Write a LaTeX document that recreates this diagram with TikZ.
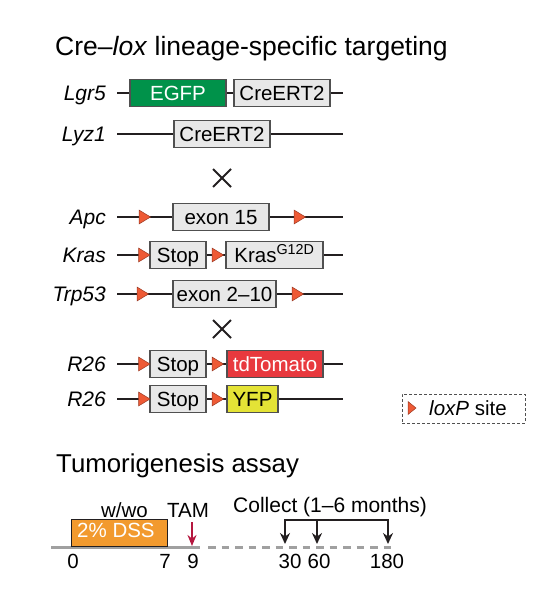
\documentclass[tikz,border=0pt]{standalone}
\usepackage{fontspec}
\setmainfont{Liberation Sans}
\usetikzlibrary{arrows.meta}
\definecolor{linec}{HTML}{231F20}
\definecolor{boxf}{HTML}{E8E8E8}
\definecolor{boxd}{HTML}{505050}
\definecolor{egfpc}{HTML}{00924A}
\definecolor{loxc}{HTML}{EE5A35}
\definecolor{loxe}{HTML}{9A3A24}
\definecolor{tomc}{HTML}{E8393E}
\definecolor{yfpc}{HTML}{E4E336}
\definecolor{dssc}{HTML}{F29A2E}
\definecolor{tlc}{HTML}{A0A0A0}
\definecolor{tamc}{HTML}{B5173F}
\newcommand\fsz[1]{\fontsize{#1}{#1}\selectfont}
\begin{document}
\begin{tikzpicture}[x=1pt,y=-1pt,
  gline/.style={draw=linec,line width=2.8pt},
  gbox/.style={draw=boxd,fill=boxf,line width=1.2pt,minimum height=27pt,inner sep=0pt,
    text height=14.8pt,text depth=0pt,font=\fsz{20.5}},
  glabel/.style={anchor=base east,inner sep=0pt,font=\fsz{21}\itshape},
  ttl/.style={anchor=base west,inner sep=0pt},
  tnum/.style={anchor=base,inner sep=0pt,font=\fsz{20.5}},
  crossmark/.style={draw=linec,line width=2pt},
  loxp/.pic={\filldraw[fill=loxc,draw=loxe,line width=0.5pt] (0,-7) -- (11.5,0) -- (0,7) -- cycle;},
  loxpsmall/.pic={\filldraw[fill=loxc,draw=loxe,line width=0.5pt] (0,-6.5) -- (8,0) -- (0,6.5) -- cycle;},
  tl/.style={draw=tlc,line width=3pt},
  collarrow/.style={draw=linec,line width=2pt,-{Stealth[length=11pt,width=10pt]}}
]
\useasboundingbox (0,0) rectangle (546,602);

% Title
\node[ttl,font=\fsz{26.5}] (title1) at (55,56) {Cre–\textit{lox} lineage-specific targeting};

% Row 1: Lgr5
\coordinate (l1a) at (117,93); \coordinate (l1b) at (343,93);
\draw[gline] (l1a) -- (l1b);
\node[glabel] (lab1) at (106,100.5) {Lgr5};
\node[gbox,fill=egfpc,text=white,minimum width=96pt] (egfp) at (178,93) {EGFP};
\node[gbox,minimum width=96pt] (cre1) at (282,93) {CreERT2};

% Row 2: Lyz1
\coordinate (l2a) at (117,134); \coordinate (l2b) at (343,134);
\draw[gline] (l2a) -- (l2b);
\node[glabel] (lab2) at (106,141.5) {Lyz1};
\node[gbox,minimum width=96pt] (cre2) at (222,134) {CreERT2};

% cross 1
\coordinate (x1a) at (213,169); \coordinate (x1b) at (231,187);
\coordinate (x1c) at (231,169); \coordinate (x1d) at (213,187);
\draw[crossmark] (x1a) -- (x1b); \draw[crossmark] (x1c) -- (x1d);

% Row 3: Apc
\coordinate (l3a) at (117,217); \coordinate (l3b) at (343,217);
\draw[gline] (l3a) -- (l3b);
\node[glabel] (lab3) at (106,224.5) {Apc};
\node[gbox,minimum width=96pt] (ex15) at (221,217) {exon 15};
\pic at (139,217) {loxp};
\pic at (294,217) {loxp};

% Row 4: Kras
\coordinate (l4a) at (117,255); \coordinate (l4b) at (343,255);
\draw[gline] (l4a) -- (l4b);
\node[glabel] (lab4) at (106,262.5) {Kras};
\node[gbox,minimum width=56pt] (stop1) at (178,255) {Stop};
\node[gbox,minimum width=97pt] (kras) at (274.5,255) {Kras\textsuperscript{G12D}};
\pic at (138.5,255) {loxp};
\pic at (212,255) {loxp};

% Row 5: Trp53
\coordinate (l5a) at (117,294); \coordinate (l5b) at (343,294);
\draw[gline] (l5a) -- (l5b);
\node[glabel] (lab5) at (106,301.5) {Trp53};
\node[gbox,minimum width=103pt] (ex210) at (224.5,294) {exon 2–10};
\pic at (137,294) {loxp};
\pic at (292,294) {loxp};

% cross 2
\coordinate (x2a) at (213,320); \coordinate (x2b) at (231,338);
\coordinate (x2c) at (231,320); \coordinate (x2d) at (213,338);
\draw[crossmark] (x2a) -- (x2b); \draw[crossmark] (x2c) -- (x2d);

% Row 6: R26 tdTomato
\coordinate (l6a) at (117,364); \coordinate (l6b) at (343,364);
\draw[gline] (l6a) -- (l6b);
\node[glabel] (lab6) at (106,371.5) {R26};
\node[gbox,minimum width=56pt] (stop2) at (178,364) {Stop};
\node[gbox,fill=tomc,text=white,minimum width=96pt] (tom) at (275,364) {tdTomato};
\pic at (138.5,364) {loxp};
\pic at (212,364) {loxp};

% Row 7: R26 YFP
\coordinate (l7a) at (117,399); \coordinate (l7b) at (343,399);
\draw[gline] (l7a) -- (l7b);
\node[glabel] (lab7) at (106,406.5) {R26};
\node[gbox,minimum width=56pt] (stop3) at (178,399) {Stop};
\node[gbox,fill=yfpc,minimum width=51pt] (yfp) at (252.5,399) {YFP};
\pic at (138.5,399) {loxp};
\pic at (212,399) {loxp};

% Legend
\node[draw=boxd,dashed,dash pattern=on 3pt off 2pt,line width=1pt,minimum width=123pt,minimum height=29pt,inner sep=0pt] (legend) at (463.5,408.5) {};
\pic at (408,408) {loxpsmall};
\node[anchor=base west,inner sep=0pt,font=\fsz{20.5}] (legtxt) at (429,415) {\textit{loxP} site};

% Tumorigenesis assay
\node[ttl,font=\fsz{25.8}] (title2) at (56,472) {Tumorigenesis assay};

\coordinate (t0) at (51,547); \coordinate (t1) at (200,547);
\coordinate (t2) at (208,547); \coordinate (t3) at (393,547);
\draw[tl] (t0) -- (t1);
\draw[tl,dash pattern=on 7.5pt off 6pt] (t2) -- (t3);

\node[draw=linec,fill=dssc,line width=1pt,minimum width=96pt,minimum height=27pt,inner sep=0pt,anchor=south west] (dss) at (71,547) {};
\node[anchor=base west,inner sep=0pt,font=\fsz{20.5},text=white] (dsstxt) at (77,537) {2\% DSS};
\node[tnum] (wwo) at (124.5,517) {w/wo};
\node[tnum] (tam) at (188,517) {TAM};
\coordinate (tama) at (192,522); \coordinate (tamb) at (192,546);
\draw[draw=tamc,line width=2pt,-{Stealth[length=11pt,width=9pt]}] (tama) -- (tamb);

\node[anchor=base west,inner sep=0pt,font=\fsz{21}] (collect) at (233,512) {Collect (1–6 months)};
\coordinate (cA) at (285,520); \coordinate (cB) at (317,520); \coordinate (cC) at (388,520);
\coordinate (aA) at (285,544); \coordinate (aB) at (317,544); \coordinate (aC) at (388,544);
\draw[draw=linec,line width=2pt,line cap=rect] (cA) -- (cC);
\draw[collarrow] (cA) -- (aA);
\draw[collarrow] (cB) -- (aB);
\draw[collarrow] (cC) -- (aC);

\node[tnum] (n0) at (73,568) {0};
\node[tnum] (n7) at (165,568) {7};
\node[tnum] (n9) at (193,568) {9};
\node[tnum] (n30) at (290,568) {30};
\node[tnum] (n60) at (319,568) {60};
\node[tnum] (n180) at (387,568) {180};
\end{tikzpicture}
\end{document}
